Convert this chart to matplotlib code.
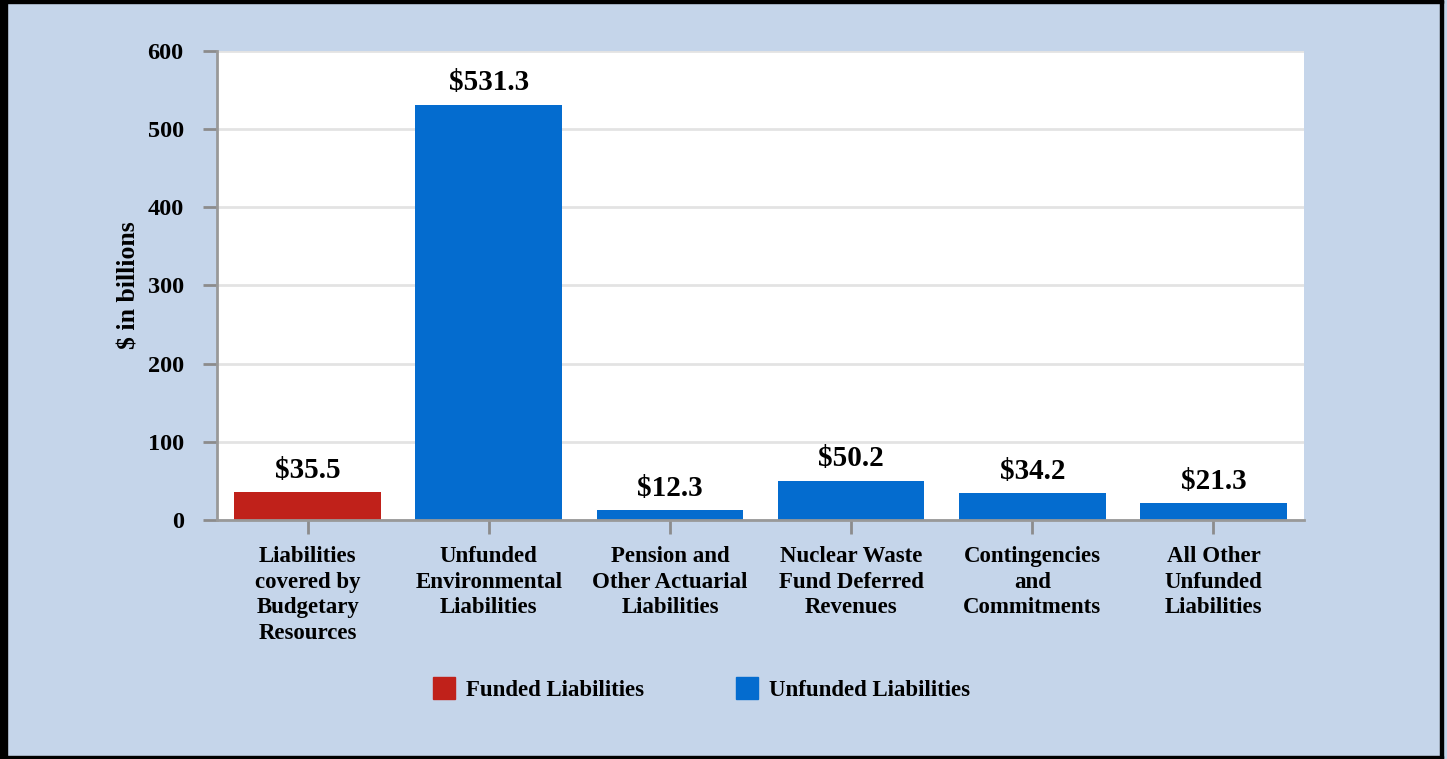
import matplotlib.pyplot as plt
from matplotlib.patches import Rectangle, Patch

# Data
categories = ["Liabilities\ncovered by\nBudgetary\nResources",
              "Unfunded\nEnvironmental\nLiabilities",
              "Pension and\nOther Actuarial\nLiabilities",
              "Nuclear Waste\nFund Deferred\nRevenues",
              "Contingencies\nand\nCommitments",
              "All Other\nUnfunded\nLiabilities"]
values = [35.5, 531.3, 12.3, 50.2, 34.2, 21.3]
funded = [True, False, False, False, False, False]
value_labels = ["$35.5", "$531.3", "$12.3", "$50.2", "$34.2", "$21.3"]
yticks = [0, 100, 200, 300, 400, 500, 600]

red = "#c0211a"
blue = "#046ccf"
bg = "#c5d5ea"

plt.rcParams['font.family'] = ['Liberation Serif', 'DejaVu Serif']
plt.rcParams['font.weight'] = 'bold'

fig = plt.figure(figsize=(14.47, 7.59), dpi=100, facecolor=bg)
ax = fig.add_axes([0.15, 0.3149, 0.7512, 0.6179])
ax.set_facecolor("white")

x = range(len(categories))
colors = [red if f else blue for f in funded]
bars = ax.bar(x, values, width=0.81, color=colors, zorder=3)
ax.bar_label(bars, labels=value_labels, padding=6, fontsize=21, fontweight='bold')

ax.set_xlim(-0.5, len(categories) - 0.5)
ax.set_ylim(0, 600)
ax.set_yticks(yticks)
ax.set_xticks(list(x))
ax.set_xticklabels(categories, fontsize=16.5, fontweight='bold', linespacing=1.28)
ax.tick_params(axis='y', labelsize=17.5, length=10, width=2, color="#8c8c8c", pad=14)
ax.tick_params(axis='x', length=10, width=2, color="#8c8c8c", pad=9)
ax.grid(axis='y', color="#e3e3e3", linewidth=2, zorder=0)
for s in ['top', 'right']:
    ax.spines[s].set_visible(False)
for s in ['left', 'bottom']:
    ax.spines[s].set_color("#999999")
    ax.spines[s].set_linewidth(2)
ax.spines['bottom'].set_zorder(4)

ax.set_ylabel("$ in billions", fontsize=18.5, fontweight='bold', labelpad=5)

handles = [Patch(color=red, label="Funded Liabilities"),
           Patch(color=blue, label="Unfunded Liabilities")]
fig.legend(handles=handles, loc='center', bbox_to_anchor=(0.485, 0.092), ncol=2,
           frameon=False, fontsize=16.5, handlelength=0.95, handleheight=1.05,
           columnspacing=4.0, handletextpad=0.5)

# black frame around the figure
W, H = 1447, 759
def frame(x0, y0, w, h):
    fig.patches.append(Rectangle((x0 / W, 1 - (y0 + h) / H), w / W, h / H,
                                 transform=fig.transFigure, color="black", zorder=10))
frame(0, 0, W - 4, 3)
frame(0, 0, 7, 759)
frame(W - 7, 0, 3, 759)
frame(0, 756, W - 4, 2)

fig.savefig("out.png", dpi=100, facecolor=bg)
